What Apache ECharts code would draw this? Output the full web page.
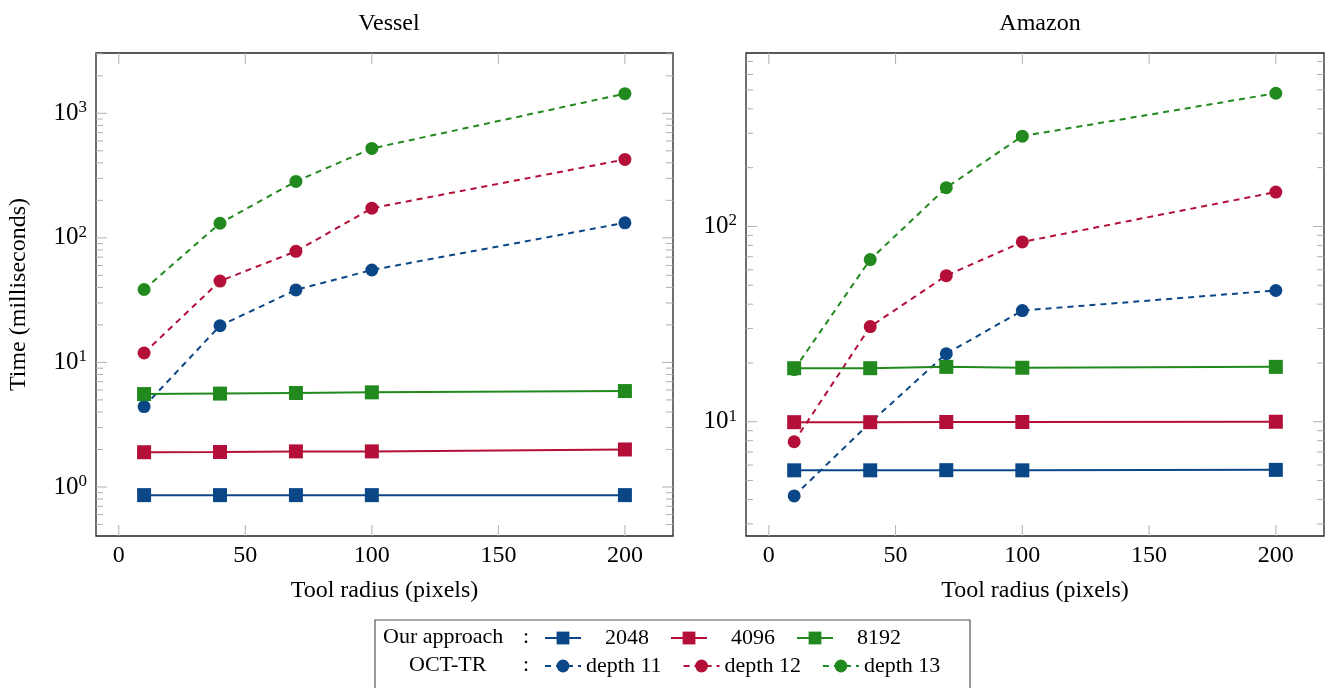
<!DOCTYPE html>
<html>
<head>
<meta charset="utf-8">
<script src="https://cdn.jsdelivr.net/npm/echarts@6/dist/echarts.min.js"></script>
<style>
html,body{margin:0;padding:0;background:#fff;}
#chart{width:1331px;height:688px;}
</style>
</head>
<body>
<div id="chart"></div>
<script>
// ---- data ----
const radius = [10, 40, 70, 100, 200];

const vesselOur2048 = [0.86, 0.86, 0.86, 0.86, 0.86];
const vesselOur4096 = [1.90, 1.91, 1.93, 1.93, 2.0];
const vesselOur8192 = [5.57, 5.62, 5.68, 5.75, 5.89];
const vesselOct11 = [4.42, 19.7, 38.2, 55.2, 132];
const vesselOct12 = [11.9, 45, 78, 173, 426];
const vesselOct13 = [38.5, 131, 284, 522, 1438];

const amazonOur2048 = [5.64, 5.64, 5.65, 5.64, 5.67];
const amazonOur4096 = [9.95, 9.95, 9.97, 9.97, 10.0];
const amazonOur8192 = [18.8, 18.8, 19.1, 18.9, 19.1];
const amazonOct11 = [4.17, 9.9, 22.3, 37.1, 47];
const amazonOct12 = [7.9, 30.7, 56, 83.3, 150];
const amazonOct13 = [18.5, 67.7, 158, 290, 481];

const seriesNames = ['2048', '4096', '8192', 'depth 11', 'depth 12', 'depth 13'];
const rowLabels = ['Our approach', 'OCT-TR'];
const titles = ['Vessel', 'Amazon'];
const xTickValues = [0, 50, 100, 150, 200];
const vesselMajorTicks = [1, 10, 100, 1000];
const vesselMinorTicks = [0.5, 0.6, 0.7, 0.8, 0.9, 2, 3, 4, 5, 6, 7, 8, 9, 20, 30, 40, 50, 60, 70, 80, 90,
  200, 300, 400, 500, 600, 700, 800, 900, 2000, 3000];
const amazonMajorTicks = [10, 100];
const amazonMinorTicks = [3, 4, 5, 6, 7, 8, 9, 20, 30, 40, 50, 60, 70, 80, 90, 200, 300, 400, 500, 600, 700];

// ---- style ----
const FONT = 'Liberation Serif';
const BLUE = '#0b4787', RED = '#b30f38', GREEN = '#22891f';

const chart = echarts.init(document.getElementById('chart'), null, {renderer: 'canvas'});

function pairs(ys) { return radius.map((x, i) => [x, ys[i]]); }

function logLabel(v) {
  const e = Math.log10(v);
  if (Math.abs(e - Math.round(e)) > 1e-6) return '';
  return '10{s|' + Math.round(e) + '}';
}

function tickData(major, minor, xRef, yRef) {
  const d = [];
  major.forEach(v => d.push([xRef, v, 0, 11]));
  minor.forEach(v => d.push([xRef, v, 0, 7]));
  xTickValues.forEach(v => d.push([v, yRef, 1, 11]));
  return d;
}

function tickSeries(idx, data) {
  return {
    type: 'custom', xAxisIndex: idx, yAxisIndex: idx, silent: true, z: 1,
    data: data,
    renderItem: function (params, api) {
      const cs = params.coordSys;
      const pt = api.coord([api.value(0), api.value(1)]);
      const kind = api.value(2), len = api.value(3);
      const st = {stroke: '#b0b0b0', lineWidth: 1};
      if (kind === 0) {
        return {type: 'group', children: [
          {type: 'line', shape: {x1: cs.x, y1: pt[1], x2: cs.x + len, y2: pt[1]}, style: st},
          {type: 'line', shape: {x1: cs.x + cs.width - len, y1: pt[1], x2: cs.x + cs.width, y2: pt[1]}, style: st}
        ]};
      }
      return {type: 'group', children: [
        {type: 'line', shape: {x1: pt[0], y1: cs.y + cs.height, x2: pt[0], y2: cs.y + cs.height - len}, style: st},
        {type: 'line', shape: {x1: pt[0], y1: cs.y, x2: pt[0], y2: cs.y + len}, style: st}
      ]};
    }
  };
}

function lineSeries(name, idx, ys, color, isOct) {
  return {
    name: name, type: 'line', xAxisIndex: idx, yAxisIndex: idx,
    data: pairs(ys),
    symbol: isOct ? 'circle' : 'rect',
    symbolSize: isOct ? 13 : 14,
    showAllSymbol: true,
    lineStyle: {color: color, width: 2, type: isOct ? [6, 5] : 'solid'},
    itemStyle: {color: color},
    emphasis: {disabled: true},
    z: isOct ? 2 : 3,
    animation: false
  };
}

const grids = [
  {left: 96, right: 658, top: 53, bottom: 152},
  {left: 746, right: 7, top: 53, bottom: 152}
];

function xAxisCfg(idx) {
  return {
    type: 'value', gridIndex: idx, min: -9, max: 219,
    name: 'Tool radius (pixels)', nameLocation: 'middle', nameGap: 43,
    nameTextStyle: {fontFamily: FONT, fontSize: 24, color: '#000'},
    axisLine: {show: false}, axisTick: {show: false}, splitLine: {show: false},
    axisLabel: {fontFamily: FONT, fontSize: 24, color: '#000', margin: 8,
      showMinLabel: true, showMaxLabel: true,
      customValues: xTickValues}
  };
}

function yAxisCfg(idx, min, max, name) {
  return {
    type: 'log', logBase: 10, gridIndex: idx, min: min, max: max,
    name: name, nameLocation: 'middle', nameGap: 65,
    nameTextStyle: {fontFamily: FONT, fontSize: 24, color: '#000'},
    axisLine: {show: false}, axisTick: {show: false}, splitLine: {show: false},
    axisLabel: {fontFamily: FONT, fontSize: 25, color: '#000', margin: 9,
      showMinLabel: false, showMaxLabel: false,
      formatter: logLabel,
      rich: {s: {fontFamily: FONT, fontSize: 17, color: '#000', padding: [0, 0, 11, 0]}}}
  };
}

const series = [
  tickSeries(0, tickData(vesselMajorTicks, vesselMinorTicks, 100, 10)),
  tickSeries(1, tickData(amazonMajorTicks, amazonMinorTicks, 100, 10)),
  lineSeries(seriesNames[3], 0, vesselOct11, BLUE, true),
  lineSeries(seriesNames[4], 0, vesselOct12, RED, true),
  lineSeries(seriesNames[5], 0, vesselOct13, GREEN, true),
  lineSeries(seriesNames[0], 0, vesselOur2048, BLUE, false),
  lineSeries(seriesNames[1], 0, vesselOur4096, RED, false),
  lineSeries(seriesNames[2], 0, vesselOur8192, GREEN, false),
  lineSeries(seriesNames[3], 1, amazonOct11, BLUE, true),
  lineSeries(seriesNames[4], 1, amazonOct12, RED, true),
  lineSeries(seriesNames[5], 1, amazonOct13, GREEN, true),
  lineSeries(seriesNames[0], 1, amazonOur2048, BLUE, false),
  lineSeries(seriesNames[1], 1, amazonOur4096, RED, false),
  lineSeries(seriesNames[2], 1, amazonOur8192, GREEN, false)
];

function legendCfg(names, top, align) {
  return {
    data: names, left: 544, top: top, orient: 'horizontal',
    padding: 0, itemWidth: 36, itemHeight: 16, itemGap: 21,
    selectedMode: false,
    textStyle: {fontFamily: FONT, fontSize: 22, color: '#000',
      rich: {c: {fontFamily: FONT, fontSize: 22, color: '#000', width: 82, align: align}}},
    formatter: n => '{c|' + n + '}'
  };
}

const option = {
  backgroundColor: '#fff',
  animation: false,
  title: [
    {text: titles[0], left: 384, top: 7, textAlign: 'center',
     textStyle: {fontFamily: FONT, fontSize: 24, fontWeight: 'normal', color: '#000'}},
    {text: titles[1], left: 1035, top: 7, textAlign: 'center',
     textStyle: {fontFamily: FONT, fontSize: 24, fontWeight: 'normal', color: '#000'}}
  ],
  grid: grids.map(g => Object.assign({show: true, borderColor: '#222', borderWidth: 1.3, backgroundColor: 'transparent'}, g)),
  xAxis: [xAxisCfg(0), xAxisCfg(1)],
  yAxis: [yAxisCfg(0, 0.404, 3048, 'Time (milliseconds)'), yAxisCfg(1, 2.6, 773, '')],
  legend: [
    legendCfg(seriesNames.slice(0, 3), 627, 'center'),
    legendCfg(seriesNames.slice(3, 6), 655, 'left')
  ],
  graphic: [
    {type: 'rect', shape: {x: 375, y: 620, width: 595, height: 80},
     style: {fill: 'none', stroke: '#555', lineWidth: 1.2}, silent: true},
    {type: 'text', left: 383, top: 626, style: {text: rowLabels[0], fontFamily: FONT, fontSize: 22, fill: '#000'}},
    {type: 'text', left: 523, top: 626, style: {text: ':', fontFamily: FONT, fontSize: 22, fill: '#000'}},
    {type: 'text', left: 409, top: 654, style: {text: rowLabels[1], fontFamily: FONT, fontSize: 22, fill: '#000'}},
    {type: 'text', left: 523, top: 654, style: {text: ':', fontFamily: FONT, fontSize: 22, fill: '#000'}}
  ],
  series: series
};

chart.setOption(option);
</script>
</body>
</html>
